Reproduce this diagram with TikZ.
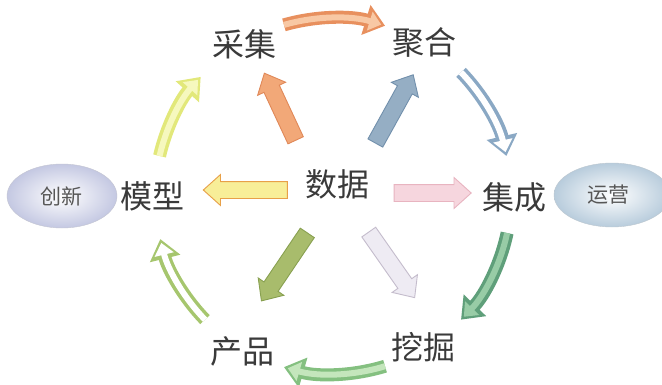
\documentclass[tikz,border=0pt]{standalone}
\usepackage{fontspec}
\newfontfamily\cjk{Noto Sans CJK SC}
\usetikzlibrary{shapes.arrows,shapes.geometric,arrows.meta}
\definecolor{txt}{HTML}{3A3A3A}
\definecolor{orangeD}{HTML}{E8905E}\definecolor{orangeL}{HTML}{F8C8A4}
\definecolor{blueD}{HTML}{8AA8C4}
\definecolor{grnRD}{HTML}{5F9F7A}\definecolor{grnRL}{HTML}{98CCA6}
\definecolor{grnBD}{HTML}{84C080}\definecolor{grnBL}{HTML}{C4E6BC}
\definecolor{leftD}{HTML}{A6C66E}
\definecolor{yelD}{HTML}{E2E87A}\definecolor{yelL}{HTML}{F6F8BE}
\definecolor{sOrF}{HTML}{F2A878}\definecolor{sOrB}{HTML}{E08858}
\definecolor{sBlF}{HTML}{95AEC4}\definecolor{sBlB}{HTML}{7290AC}
\definecolor{sYeF}{HTML}{F8EE98}\definecolor{sYeB}{HTML}{E8A048}
\definecolor{sPiF}{HTML}{F6D6DE}\definecolor{sPiB}{HTML}{E8B4C0}
\definecolor{sGrF}{HTML}{A8BC6C}\definecolor{sGrB}{HTML}{88A050}
\definecolor{sLaF}{HTML}{EEEBF3}\definecolor{sLaB}{HTML}{C4BCCC}
\definecolor{cxO}{HTML}{C4C8E2}\definecolor{yyO}{HTML}{B8CCDC}
\begin{document}
\begin{tikzpicture}[x=1pt,y=1pt,
  lbl/.style={font=\cjk\fontsize{32}{34}\selectfont, text=txt, inner sep=1pt},
  blob/.style={ellipse, minimum width=110pt, minimum height=64pt, inner sep=0pt,
    font=\cjk\fontsize{21}{23}\selectfont, text=txt!85},
  barrow/.style={single arrow, line width=0.9pt, minimum width=0pt, inner xsep=0pt,
    inner ysep=8pt, single arrow head extend=7pt, single arrow tip angle=84},
  outerarc/.style={line width=13pt, -{Triangle[width=30pt,length=20pt]}},
  innerarc/.style={line width=6pt, shorten >=4pt, -{Triangle[width=19pt,length=12pt]}}
]
\useasboundingbox (0,0) rectangle (662,384);
\fill[white] (0,0) rectangle (662,384);

% centre of the cycle
\coordinate (c) at (333,188);

% side ellipses
\node[blob, inner color=white, outer color=cxO, draw=cxO!80!black!60] (cx) at (62,188) {创新};
\node[blob, minimum width=116pt, inner color=white, outer color=yyO, draw=yyO!80!black!60] (yy) at (612,189) {\hspace*{-8pt}运营};

% labels
\node[lbl] (sj) at (337,200) {数据};
\node[lbl] (cj) at (244,340) {采集};
\node[lbl] (jh) at (424,342) {聚合};
\node[lbl] (jc) at (514,187) {集成};
\node[lbl] (wj) at (423,37) {挖掘};
\node[lbl] (cp) at (242,33) {产品};
\node[lbl] (mx) at (152,188) {模型};

% curved cycle arrows (on a circle round c)
\draw[outerarc, color=orangeD] ([shift={(106:178)}]c) arc[start angle=106, end angle=73, radius=178];
\draw[innerarc, color=orangeL] ([shift={(106:178)}]c) arc[start angle=106, end angle=73, radius=178];

\draw[outerarc, color=blueD] ([shift={(44:178)}]c) arc[start angle=44, end angle=13, radius=178];
\draw[innerarc, color=white] ([shift={(44:178)}]c) arc[start angle=44, end angle=13, radius=178];

\draw[outerarc, color=grnRD] ([shift={(-12:178)}]c) arc[start angle=-12, end angle=-44, radius=178];
\draw[innerarc, color=grnRL] ([shift={(-12:178)}]c) arc[start angle=-12, end angle=-44, radius=178];

\draw[outerarc, color=grnBD] ([shift={(-73:178)}]c) arc[start angle=-73, end angle=-106, radius=178];
\draw[innerarc, color=grnBL] ([shift={(-73:178)}]c) arc[start angle=-73, end angle=-106, radius=178];

\draw[outerarc, color=leftD] ([shift={(224:178)}]c) arc[start angle=224, end angle=194, radius=178];
\draw[innerarc, color=white] ([shift={(224:178)}]c) arc[start angle=224, end angle=194, radius=178];

\draw[outerarc, color=yelD] ([shift={(167:178)}]c) arc[start angle=167, end angle=138, radius=178];
\draw[innerarc, color=yelL] ([shift={(167:178)}]c) arc[start angle=167, end angle=138, radius=178];

% straight arrows out of 数据
\node[barrow, rotate=115, minimum height=74pt, draw=sOrB, fill=sOrF] (a1) at (282,273) {};
\node[barrow, rotate=61, minimum height=78pt, draw=sBlB, fill=sBlF] (a2) at (392,271) {};
\node[barrow, rotate=180, minimum height=84pt, draw=sYeB, fill=sYeF] (a3) at (250,194) {};
\node[barrow, rotate=0, minimum height=77pt, draw=sPiB, fill=sPiF] (a4) at (428,191) {};
\node[barrow, rotate=236, minimum height=82pt, draw=sGrB, fill=sGrF] (a5) at (287,121) {};
\node[barrow, rotate=-55, minimum height=80pt, draw=sLaB, fill=sLaF] (a6) at (389,123) {};
\end{tikzpicture}
\end{document}
